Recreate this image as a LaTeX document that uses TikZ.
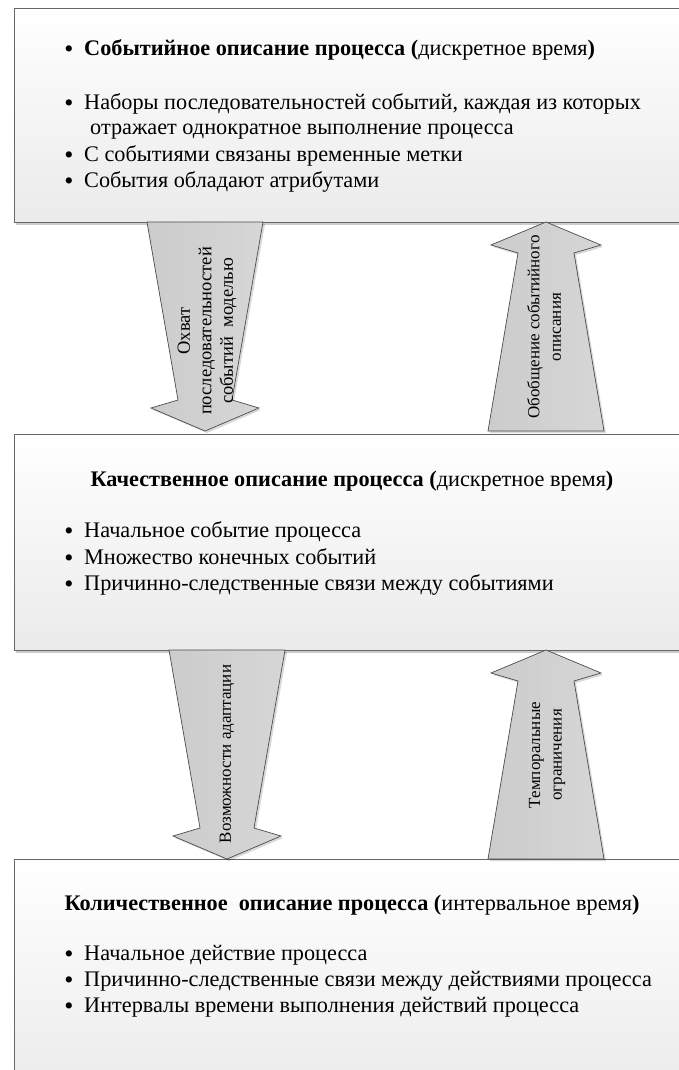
\documentclass[tikz,border=0pt]{standalone}
\usepackage{fontspec}
\setmainfont{Liberation Serif}
\usetikzlibrary{shadows}
\begin{document}
\begin{tikzpicture}[x=1pt,y=-1pt,
  boxstyle/.style={draw=black!60, line width=0.9pt, top color=white, bottom color=black!8,
    minimum width=676pt, anchor=north west, inner sep=0pt,
    drop shadow={shadow xshift=1.5pt, shadow yshift=-2.5pt, opacity=0.2, fill=black}},
  arrowstyle/.style={draw=black!70, line width=0.7pt, left color=black!20, right color=black!16,
    drop shadow={shadow xshift=2pt, shadow yshift=-2pt, opacity=0.15, fill=black}},
  maintext/.style={font=\fontsize{22.25}{26}\selectfont, inner sep=0pt, anchor=base west},
  headtext/.style={font=\fontsize{22.25}{26}\selectfont, inner sep=0pt, anchor=base},
  bul/.style={font=\fontsize{26}{26}\selectfont, inner sep=0pt, anchor=base},
  arrlabel/.style={font=\fontsize{17}{21.5}\selectfont, inner sep=0pt, rotate=90, align=center},
  biglabel/.style={font=\fontsize{18.5}{21.5}\selectfont, inner sep=0pt, rotate=90, align=center},
  downarr/.pic={\path[arrowstyle] (-58,0) -- (58,0) -- (27,178) -- (54,186) -- (0,209) -- (-54,186) -- (-27,178) -- cycle;},
  uparr/.pic={\path[arrowstyle] (-58,0) -- (58,0) -- (28,-178) -- (55,-186) -- (0,-209) -- (-55,-186) -- (-28,-178) -- cycle;}
]
\useasboundingbox (0,0) rectangle (678,1070);
\fill[white] (0,0) rectangle (678,1070);

% boxes
\node[boxstyle, minimum height=214pt] (box1) at (14,8) {};
\node[boxstyle, minimum height=216pt] (box2) at (14,434) {};
\node[boxstyle, minimum height=240pt] (box3) at (14,859) {};

% arrows
\pic (arr1) at (205,222) {downarr};
\pic (arr2) at (546,431) {uparr};
\pic (arr3) at (227,650) {downarr};
\pic (arr4) at (546,859) {uparr};

% box 1 text
\node[bul] (b1a) at (69,58) {•};
\node[maintext] (t1a) at (84,56) {\textbf{Событийное описание процесса (}дискретное время\textbf{)}};
\node[bul] (b1b) at (69,112) {•};
\node[maintext] (t1b) at (84,110) {Наборы последовательностей событий, каждая из которых};
\node[maintext] (t1c) at (90,135) {отражает однократное выполнение процесса};
\node[bul] (b1d) at (69,163) {•};
\node[maintext] (t1d) at (84,161) {С событиями связаны временные метки};
\node[bul] (b1e) at (69,189) {•};
\node[maintext] (t1e) at (84,187) {События обладают атрибутами};

% box 2 text
\node[headtext] (h2) at (352,486) {\textbf{Качественное описание процесса (}дискретное время\textbf{)}};
\node[bul] (b2a) at (69,539) {•};
\node[maintext] (t2a) at (84,537) {Начальное событие процесса};
\node[bul] (b2b) at (69,566) {•};
\node[maintext] (t2b) at (84,564) {Множество конечных событий};
\node[bul] (b2c) at (69,592) {•};
\node[maintext] (t2c) at (84,590) {Причинно-следственные связи между событиями};

% box 3 text
\node[headtext] (h3) at (352,910) {\textbf{Количественное\ \ описание процесса (}интервальное время\textbf{)}};
\node[bul] (b3a) at (69,962) {•};
\node[maintext] (t3a) at (84,960) {Начальное действие процесса};
\node[bul] (b3b) at (69,988) {•};
\node[maintext] (t3b) at (84,986) {Причинно-следственные связи между действиями процесса};
\node[bul] (b3c) at (69,1014) {•};
\node[maintext] (t3c) at (84,1012) {Интервалы времени выполнения действий процесса};

% arrow labels
\node[biglabel] (l1) at (207,331) {Охват\\последовательностей\\событий\ \ моделью};
\node[arrlabel] (l2) at (544,327) {Обобщение событийного\\описания};
\node[arrlabel] (l3) at (227,754) {Возможности адаптации};
\node[arrlabel] (l4) at (547,755) {Темпоральные\\ограничения};
\end{tikzpicture}
\end{document}
